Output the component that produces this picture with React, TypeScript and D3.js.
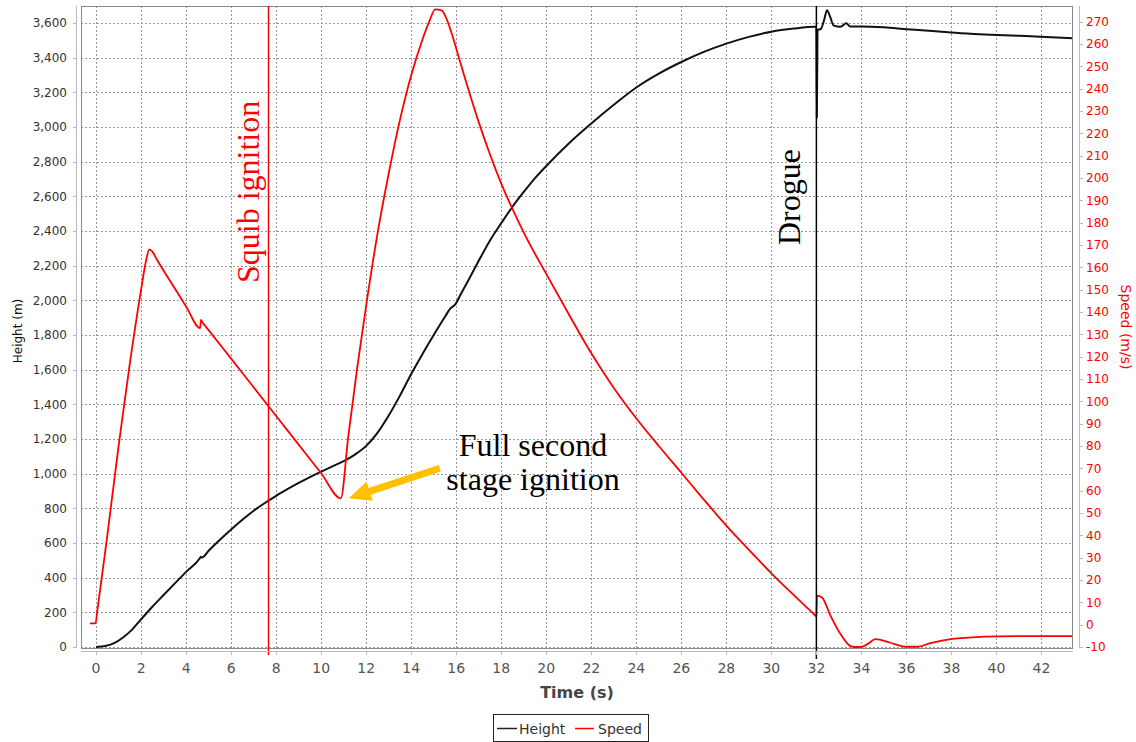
import * as d3 from 'd3';
import { useEffect, useRef } from 'react';

// flight data
const heightTime = [
  0, 0.4, 0.8, 1.2, 1.6, 2.0, 2.5, 3.0, 3.5, 4.0, 4.6, 4.65, 4.7, 5.0, 5.5, 6.0, 6.5, 7.0, 7.66,
  8.0, 8.5, 9.0, 9.5, 10.0, 10.5, 11.0, 11.5, 12.0, 12.5, 13.0, 13.5, 14.0, 14.5, 15.0, 15.5, 15.75,
  15.95, 16.2, 16.6, 17.07, 17.5, 18.0, 18.5, 19.0, 19.5, 20.0, 21.0, 22.0, 23.0, 24.0, 25.0, 26.0,
  27.0, 28.0, 29.0, 30.0, 31.0, 31.95, 32.0, 32.02, 32.05, 32.2, 32.35, 32.47, 32.6, 32.77, 33.07,
  33.33, 33.5, 34.0, 35.0, 36.03, 37.0, 37.96, 39.0, 40.03, 41.0, 41.96, 43.4,
];
const heightValue = [
  0, 5, 22, 55, 100, 160, 232, 300, 367, 433, 510, 520, 516, 555, 618, 678, 734, 786, 844,
  872, 910, 946, 980, 1012, 1042, 1072, 1110, 1160, 1235, 1335, 1450, 1575, 1690, 1800, 1905, 1955,
  1975, 2035, 2130, 2245, 2345, 2445, 2540, 2625, 2705, 2775, 2905, 3020, 3128, 3228, 3308, 3375,
  3433, 3481, 3520, 3550, 3568, 3578, 3578, 3055, 3560, 3566, 3620, 3673, 3640, 3585, 3578,
  3598, 3580, 3580, 3575, 3564, 3555, 3545, 3537, 3531, 3526, 3521, 3512,
];
const speedTime = [
  -0.27, -0.02, 0.04, 0.5, 1.0, 1.5, 2.0, 2.2, 2.37, 2.5, 2.7, 3.5, 4.0, 4.62, 4.66, 4.72, 5.0, 6.0, 7.0,
  7.66, 8.0, 9.0, 10.0, 10.87, 11.2, 11.6, 12.0, 12.5, 13.0, 13.5, 14.0, 14.5, 14.8, 15.07, 15.35,
  15.6, 15.85, 16.1, 16.5, 17.0, 17.5, 18.0, 18.55, 19.0, 20.03, 21.0, 22.0, 23.0, 24.03, 25.0, 26.0,
  27.0, 28.03, 29.0, 30.0, 31.0, 31.5, 31.95, 32.0, 32.03, 32.25, 32.62, 33.07, 33.51, 33.7, 34.03, 34.3, 34.62,
  35.29, 35.96, 36.48, 37.07, 38.03, 39.44, 40.92, 43.4,
];
const speedValue = [
  0.6, 0.6, 5, 40, 80, 117, 150, 162, 168, 167, 163.5, 150.5, 142.5, 132.8, 136.5, 135.5, 131.9, 119.1, 106.3,
  97.8, 93.4, 80.6, 67.8, 56.6, 84, 115, 143, 175, 202, 226, 246, 262, 270, 275.5, 275,
  270.5, 263, 254.5, 241, 225, 210.5, 197.5, 185, 175.5, 156.5, 139, 121.5, 106, 92, 80, 68,
  56, 44, 33.5, 23, 13.2, 8.4, 4.1, 3.6, 13, 12.2, 4.2, -4.2, -9.6, -10, -9.9, -8.5, -6.5,
  -8.1, -9.9, -9.9, -8.3, -6.4, -5.4, -5.1, -5.1,
];

const timeTicks = [0, 2, 4, 6, 8, 10, 12, 14, 16, 18, 20, 22, 24, 26, 28, 30, 32, 34, 36, 38, 40, 42];
const heightTicks = [0, 200, 400, 600, 800, 1000, 1200, 1400, 1600, 1800, 2000, 2200, 2400, 2600, 2800, 3000, 3200, 3400, 3600];
const speedTicks = [
  -10, 0, 10, 20, 30, 40, 50, 60, 70, 80, 90, 100, 110, 120, 130, 140, 150, 160, 170, 180, 190,
  200, 210, 220, 230, 240, 250, 260, 270,
];

const squibTime = 7.66;
const drogueTime = 32;
const secondStage = { t: 10.87, v: 56.6 };

const W = 1136;
const H = 742;
const plot = { left: 81, right: 1073, top: 6, bottom: 648 };
const sans = 'DejaVu Sans, sans-serif';
const serif = 'Liberation Serif, Times New Roman, serif';

const App = () => {
  const ref = useRef(null);

  useEffect(() => {
    const svg = d3.select(ref.current);
    svg.selectAll('*').remove();

    const x = d3.scaleLinear().domain([-0.67, 43.4]).range([plot.left, plot.right]);
    const yH = d3.scaleLinear().domain([-6, 3698]).range([plot.bottom, plot.top]);
    const yS = d3.scaleLinear().domain([-10.45, 277]).range([plot.bottom, plot.top]);

    svg.append('rect').attr('width', W).attr('height', H).attr('fill', '#fff');

    svg
      .append('clipPath')
      .attr('id', 'plot-clip')
      .append('rect')
      .attr('x', plot.left)
      .attr('y', plot.top)
      .attr('width', plot.right - plot.left)
      .attr('height', plot.bottom - plot.top);

    // grid
    const grid = svg.append('g').attr('stroke', '#999').attr('stroke-dasharray', '2,2').attr('stroke-width', 1);
    grid
      .selectAll('.gx')
      .data(timeTicks)
      .join('line')
      .attr('x1', (d) => Math.round(x(d)) + 0.5)
      .attr('x2', (d) => Math.round(x(d)) + 0.5)
      .attr('y1', plot.top)
      .attr('y2', plot.bottom);
    grid
      .selectAll('.gy')
      .data(heightTicks)
      .join('line')
      .attr('x1', plot.left)
      .attr('x2', plot.right)
      .attr('y1', (d) => Math.round(yH(d)) + 0.5)
      .attr('y2', (d) => Math.round(yH(d)) + 0.5);

    // series
    const heightData = heightTime.map((t, i) => [t, heightValue[i]]);
    const speedData = speedTime.map((t, i) => [t, speedValue[i]]);

    const series = svg.append('g').attr('clip-path', 'url(#plot-clip)');
    series
      .append('path')
      .datum(heightData)
      .attr('fill', 'none')
      .attr('stroke', '#111')
      .attr('stroke-width', 2)
      .attr('stroke-linejoin', 'round')
      .attr(
        'd',
        d3
          .line()
          .x((d) => x(d[0]))
          .y((d) => yH(d[1]))
          .curve(d3.curveMonotoneX),
      );
    series
      .append('path')
      .datum(speedData)
      .attr('fill', 'none')
      .attr('stroke', '#ff0000')
      .attr('stroke-width', 1.8)
      .attr('stroke-linejoin', 'round')
      .attr(
        'd',
        d3
          .line()
          .x((d) => x(d[0]))
          .y((d) => yS(d[1]))
          .curve(d3.curveMonotoneX),
      );

    // plot outline
    svg
      .append('rect')
      .attr('x', plot.left + 0.5)
      .attr('y', plot.top + 0.5)
      .attr('width', plot.right - plot.left - 1)
      .attr('height', plot.bottom - plot.top)
      .attr('fill', 'none')
      .attr('stroke', '#888');

    // event markers
    svg
      .append('line')
      .attr('x1', x(squibTime))
      .attr('x2', x(squibTime))
      .attr('y1', plot.top)
      .attr('y2', 655)
      .attr('stroke', '#ff0000')
      .attr('stroke-width', 1.5);
    svg
      .append('line')
      .attr('x1', x(drogueTime))
      .attr('x2', x(drogueTime))
      .attr('y1', plot.top)
      .attr('y2', 659)
      .attr('stroke', '#000')
      .attr('stroke-width', 1.5);

    // left axis
    const axisColor = '#bbb';
    svg.append('line').attr('x1', 76.5).attr('x2', 76.5).attr('y1', plot.top).attr('y2', plot.bottom).attr('stroke', axisColor);
    const left = svg.append('g');
    left
      .selectAll('line')
      .data(heightTicks)
      .join('line')
      .attr('x1', 73)
      .attr('x2', 76.5)
      .attr('y1', (d) => Math.round(yH(d)) + 0.5)
      .attr('y2', (d) => Math.round(yH(d)) + 0.5)
      .attr('stroke', axisColor);
    left
      .selectAll('text')
      .data(heightTicks)
      .join('text')
      .attr('x', 67)
      .attr('y', (d) => yH(d))
      .attr('dy', '0.36em')
      .attr('text-anchor', 'end')
      .attr('font-family', sans)
      .attr('font-size', 12)
      .attr('fill', '#333')
      .text((d) => d3.format(',')(d));
    svg
      .append('text')
      .attr('transform', 'translate(22,331) rotate(-90)')
      .attr('text-anchor', 'middle')
      .attr('font-family', sans)
      .attr('font-size', 12)
      .attr('fill', '#111')
      .text('Height (m)');

    // bottom axis
    svg.append('line').attr('x1', plot.left).attr('x2', plot.right).attr('y1', 651.5).attr('y2', 651.5).attr('stroke', axisColor);
    const bottom = svg.append('g');
    bottom
      .selectAll('line')
      .data(timeTicks)
      .join('line')
      .attr('x1', (d) => Math.round(x(d)) + 0.5)
      .attr('x2', (d) => Math.round(x(d)) + 0.5)
      .attr('y1', 651.5)
      .attr('y2', 655)
      .attr('stroke', axisColor);
    bottom
      .selectAll('text')
      .data(timeTicks)
      .join('text')
      .attr('x', (d) => x(d))
      .attr('y', 673)
      .attr('text-anchor', 'middle')
      .attr('font-family', sans)
      .attr('font-size', 14)
      .attr('fill', '#555')
      .text((d) => d);
    svg
      .append('text')
      .attr('x', 577)
      .attr('y', 698)
      .attr('text-anchor', 'middle')
      .attr('font-family', sans)
      .attr('font-size', 16)
      .attr('font-weight', 'bold')
      .attr('fill', '#444')
      .text('Time (s)');

    // right axis
    svg.append('line').attr('x1', 1079.5).attr('x2', 1079.5).attr('y1', plot.top).attr('y2', plot.bottom).attr('stroke', axisColor);
    const right = svg.append('g');
    right
      .selectAll('line')
      .data(speedTicks)
      .join('line')
      .attr('x1', 1079.5)
      .attr('x2', 1083)
      .attr('y1', (d) => Math.round(yS(d)) + 0.5)
      .attr('y2', (d) => Math.round(yS(d)) + 0.5)
      .attr('stroke', axisColor);
    right
      .selectAll('text')
      .data(speedTicks)
      .join('text')
      .attr('x', 1086)
      .attr('y', (d) => yS(d))
      .attr('dy', '0.36em')
      .attr('font-family', sans)
      .attr('font-size', 12)
      .attr('fill', '#ff0000')
      .text((d) => d);
    svg
      .append('text')
      .attr('transform', 'translate(1121,327) rotate(90)')
      .attr('text-anchor', 'middle')
      .attr('font-family', sans)
      .attr('font-size', 14)
      .attr('fill', '#ff0000')
      .text('Speed (m/s)');

    // annotations
    svg
      .append('text')
      .attr('transform', `translate(${x(squibTime) - 10},283) rotate(-90)`)
      .attr('font-family', serif)
      .attr('font-size', 32)
      .attr('fill', '#ff0000')
      .text('Squib ignition');
    svg
      .append('text')
      .attr('transform', `translate(${x(drogueTime) - 16},245) rotate(-90)`)
      .attr('font-family', serif)
      .attr('font-size', 32)
      .attr('fill', '#000')
      .text('Drogue');
    const note = svg
      .append('text')
      .attr('text-anchor', 'middle')
      .attr('font-family', serif)
      .attr('font-size', 32)
      .attr('fill', '#000');
    note.append('tspan').attr('x', 533).attr('y', 456).text('Full second');
    note.append('tspan').attr('x', 533).attr('y', 490).text('stage ignition');

    // arrow pointing at the second stage ignition minimum
    const tip = [x(secondStage.t) + 8, yS(secondStage.v)];
    const tail = [tip[0] + 91, tip[1] - 30];
    const len = Math.hypot(tail[0] - tip[0], tail[1] - tip[1]);
    const u = [(tail[0] - tip[0]) / len, (tail[1] - tip[1]) / len];
    const n = [-u[1], u[0]];
    const headLen = 22;
    const headHalf = 10;
    const shaftHalf = 3.5;
    const base = [tip[0] + u[0] * headLen, tip[1] + u[1] * headLen];
    const pt = (p, k) => [p[0] + n[0] * k, p[1] + n[1] * k];
    svg
      .append('polygon')
      .attr(
        'points',
        [tip, pt(base, headHalf), pt(base, shaftHalf), pt(tail, shaftHalf), pt(tail, -shaftHalf), pt(base, -shaftHalf), pt(base, -headHalf)]
          .map((p) => p.join(','))
          .join(' '),
      )
      .attr('fill', '#ffc000');

    // legend
    const legend = svg.append('g');
    legend
      .append('rect')
      .attr('x', 493.5)
      .attr('y', 714.5)
      .attr('width', 155)
      .attr('height', 27)
      .attr('fill', '#fff')
      .attr('stroke', '#222');
    legend.append('line').attr('x1', 497).attr('x2', 517).attr('y1', 728.5).attr('y2', 728.5).attr('stroke', '#222').attr('stroke-width', 1.5);
    legend
      .append('text')
      .attr('x', 519)
      .attr('y', 733.5)
      .attr('font-family', sans)
      .attr('font-size', 14)
      .attr('fill', '#333')
      .text('Height');
    legend.append('line').attr('x1', 575).attr('x2', 594).attr('y1', 728.5).attr('y2', 728.5).attr('stroke', '#ff0000').attr('stroke-width', 1.5);
    legend
      .append('text')
      .attr('x', 598)
      .attr('y', 733.5)
      .attr('font-family', sans)
      .attr('font-size', 14)
      .attr('fill', '#333')
      .text('Speed');
  }, []);

  return <svg ref={ref} width={W} height={H} style={{ position: 'absolute', left: 0, top: 0 }} />;
};

export default App;
